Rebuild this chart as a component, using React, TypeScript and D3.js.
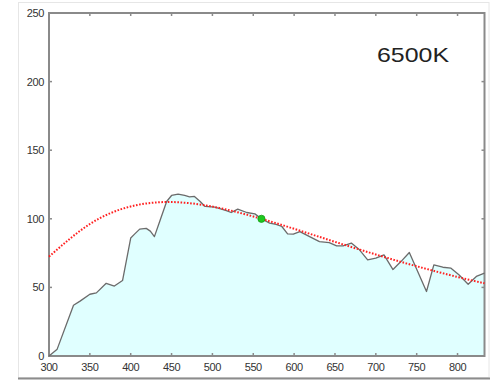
import React from "react";
import * as d3 from "d3";

const spectrumNm = [300, 310, 330, 338, 350, 358, 370, 380, 390, 400, 405, 411, 419, 424, 429, 436, 444, 450, 458, 466, 472, 478, 485, 491, 503, 517, 523, 531, 542, 552, 560, 570, 578, 585, 592, 599, 607, 619, 631, 643, 652, 660, 670, 680, 690, 700, 710, 721, 731, 741, 762, 771, 782, 792, 802, 813, 823, 833];
const spectrumVal = [0, 5, 37, 40, 45, 46, 53, 51, 55, 86, 89, 92.5, 93, 91, 87, 99, 112.6, 117, 118, 117, 116, 116.3, 112.6, 109, 108.5, 106, 104.6, 107, 104.6, 103.6, 100, 96.8, 96, 94.4, 89, 88.8, 90.7, 87, 83.4, 82.7, 80.3, 80.3, 82.3, 77.4, 70, 71.3, 73.7, 63, 69, 75.4, 47, 66.4, 64.7, 64, 59, 52.3, 58, 60.4];

const blackbodyNm = [300, 350, 400, 450, 500, 550, 600, 650, 700, 750, 800, 833];
const blackbodyVal = [72.4, 96.2, 109, 112.2, 108.9, 101.7, 92.7, 83.2, 74, 65.4, 57.6, 53];

const refPoint = { nm: 560, val: 100 };

const xTicks = [300, 350, 400, 450, 500, 550, 600, 650, 700, 750, 800];
const yTicks = [0, 50, 100, 150, 200, 250];
const label = "6500K";

export default function App() {
  const W = 495, H = 381;
  const x = d3.scaleLinear().domain([300, 833]).range([49, 484.5]);
  const y = d3.scaleLinear().domain([0, 250]).range([356, 13]);

  const spec = spectrumNm.map((n, i) => [n, spectrumVal[i]] as [number, number]);
  const bb = blackbodyNm.map((n, i) => [n, blackbodyVal[i]] as [number, number]);

  const area = d3.area<[number, number]>().x(d => x(d[0])).y0(y(0)).y1(d => y(d[1]))(spec) || "";
  const line = d3.line<[number, number]>().x(d => x(d[0])).y(d => y(d[1]))(spec) || "";
  const bbLine = d3.line<[number, number]>().x(d => x(d[0])).y(d => y(d[1])).curve(d3.curveNatural)(bb) || "";

  const axisColor = "#8a8a8a";
  const textColor = "#333";
  const font = "'Liberation Sans', Arial, sans-serif";

  return (
    <svg width={W} height={H} style={{ position: "absolute", left: 0, top: 0 }} xmlns="http://www.w3.org/2000/svg">
      <rect x={0} y={0} width={W} height={H} fill="#fff" />
      {/* outer picture frame */}
      <rect x={18.5} y={2.5} width={470.5} height={375} fill="none" stroke="#e6e6e6" strokeWidth={1} />
      <line x1={18} x2={490} y1={378.5} y2={378.5} stroke="#8c8c8c" strokeWidth={2} />

      <path d={area} fill="#e0ffff" />

      {/* ticks (inward) */}
      {xTicks.map(t => (
        <g key={"xt" + t}>
          <line x1={x(t)} x2={x(t)} y1={y(0)} y2={y(0) - 3} stroke={axisColor} strokeWidth={1.5} />
          <line x1={x(t)} x2={x(t)} y1={y(250)} y2={y(250) + 3} stroke={axisColor} strokeWidth={1.5} />
          <text x={x(t)} y={371} textAnchor="middle" fontSize={11} fontFamily={font} fill={textColor} letterSpacing={-0.4}>{t}</text>
        </g>
      ))}
      {yTicks.map(t => (
        <g key={"yt" + t}>
          <line x1={x(300)} x2={x(300) + 3} y1={y(t)} y2={y(t)} stroke={axisColor} strokeWidth={1.5} />
          <line x1={x(833)} x2={x(833) - 3} y1={y(t)} y2={y(t)} stroke={axisColor} strokeWidth={1.5} />
          <text x={t === 0 ? 44 : 44} y={y(t) + 4} textAnchor="end" fontSize={11} fontFamily={font} fill={textColor} letterSpacing={-0.4}>{t}</text>
        </g>
      ))}

      {/* plot frame */}
      <rect x={x(300)} y={y(250)} width={x(833) - x(300)} height={y(0) - y(250)} fill="none" stroke={axisColor} strokeWidth={2} />

      <path d={line} fill="none" stroke="#6b6b6b" strokeWidth={1.3} strokeLinejoin="round" />
      <path d={bbLine} fill="none" stroke="#ff2020" strokeWidth={2} strokeDasharray="1.6,1.6" />
      <circle cx={x(refPoint.nm)} cy={y(refPoint.val)} r={3.6} fill="#1ec81e" stroke="#159a15" strokeWidth={0.8} />

      <text x={377} y={61.5} fontSize={21} fontFamily={font} fill="#222" textLength={72} lengthAdjust="spacingAndGlyphs">{label}</text>
    </svg>
  );
}
